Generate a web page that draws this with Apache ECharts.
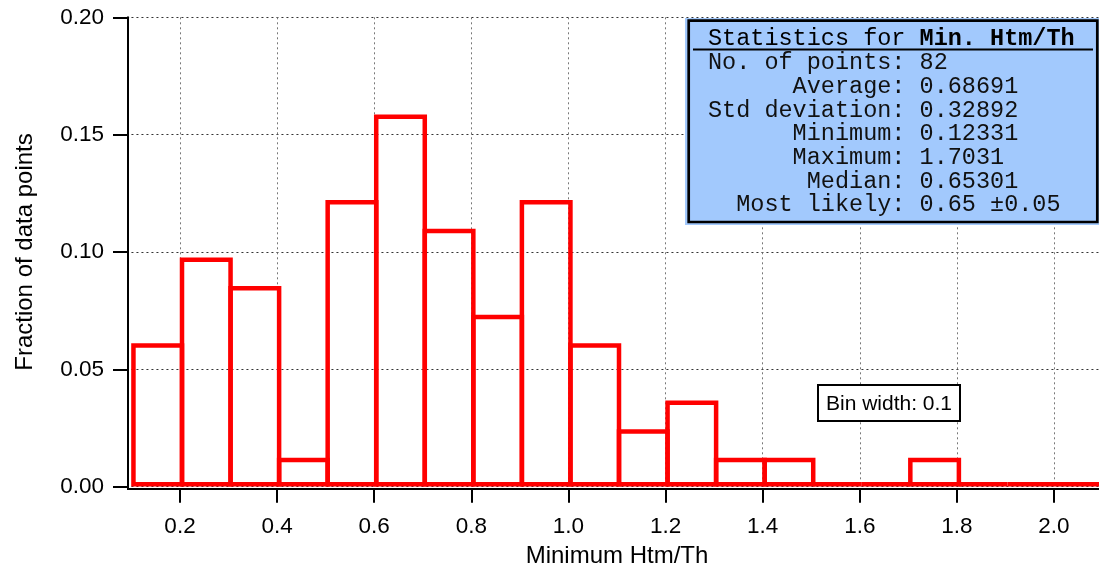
<!DOCTYPE html>
<html><head><meta charset="utf-8">
<script src="https://cdn.jsdelivr.net/npm/echarts@6/dist/echarts.min.js"></script>
<style>html,body{margin:0;padding:0;background:#fff}#c{width:1099px;height:569px}</style>
</head><body><div id="c"></div>
<script>
// ---- data ----
const binStarts = [0.1,0.2,0.3,0.4,0.5,0.6,0.7,0.8,0.9,1.0,1.1,1.2,1.3,1.4,1.5,1.6,1.7,1.8,1.9,2.0];
const binWidth = 0.1;
const fractions = [0.0610,0.0976,0.0854,0.0122,0.1220,0.1585,0.1098,0.0732,0.1220,0.0610,0.0244,0.0366,0.0122,0.0122,0,0,0.0122,0,0,0];
const xTickValues = [0.2,0.4,0.6,0.8,1.0,1.2,1.4,1.6,1.8,2.0];
const statTitle = 'Statistics for ';
const statTitleBold = 'Min. Htm/Th';
const statLines = [
  'No. of points: 82',
  '      Average: 0.68691',
  'Std deviation: 0.32892',
  '      Minimum: 0.12331',
  '      Maximum: 1.7031',
  '       Median: 0.65301',
  '  Most likely: 0.65 \u00b10.05'
];
const binLabel = 'Bin width: 0.1';

// ---- chart ----
const chart = echarts.init(document.getElementById('c'), null, {renderer:'canvas'});
const sans = 'Liberation Sans, Arial, sans-serif';
const mono = 'Liberation Mono, Courier New, monospace';
const statFont = 23.5;
const statLineGap = 23.7;

const graphics = [
  {type:'rect', shape:{x:685, y:18, width:416, height:207}, style:{fill:'#a2c9fd'}, z:100},
  {type:'rect', shape:{x:688.7, y:20.7, width:408.6, height:201.3}, style:{fill:'none', stroke:'#000', lineWidth:2.7}, z:101},
  {type:'text', x:708, y:39, style:{text:'{a|'+statTitle+'}{b|'+statTitleBold+'}', rich:{a:{fontFamily:mono,fontSize:statFont,color:'#111'}, b:{fontFamily:mono,fontSize:statFont,fontWeight:'bold',color:'#000'}}, verticalAlign:'middle', align:'left'}, z:102},
  {type:'line', shape:{x1:693, y1:49.5, x2:1093, y2:49.5}, style:{stroke:'#000', lineWidth:2}, z:102},
  {type:'rect', shape:{x:818, y:385, width:142, height:36}, style:{fill:'#fff', stroke:'#000', lineWidth:2}, z:100},
  {type:'text', x:889, y:404, style:{text:binLabel, fontFamily:sans, fontSize:21, fill:'#000', align:'center', verticalAlign:'middle'}, z:101},
  // axis corner join (axis lines meet below/left of the plot area, as in the reference)
  {type:'polyline', shape:{points:[[128,486],[128,489],[132,489]]}, style:{stroke:'#000', lineWidth:2, fill:'none'}, z:50}
];
statLines.forEach((s,i)=>{
  graphics.push({type:'text', x:708, y:63 + i*statLineGap, style:{text:s, fontFamily:mono, fontSize:statFont, fill:'#111', align:'left', verticalAlign:'middle'}, z:102});
});

chart.setOption({
  animation:false,
  backgroundColor:'#fff',
  grid:{left:131.45, top:17.3, width:971.1, height:469.4, containLabel:false, outerBoundsMode:'none'},
  xAxis:{
    type:'value', min:0.1, max:2.1, offset:2,
    axisLine:{show:true, onZero:false, lineStyle:{color:'#000', width:2}},
    axisTick:{show:true, customValues:xTickValues, length:14, lineStyle:{color:'#000', width:2}},
    axisLabel:{customValues:xTickValues, formatter:v=>v.toFixed(1), fontSize:22.5, color:'#000', fontFamily:sans, margin:27},
    splitLine:{show:true, lineStyle:{color:'#777', type:[2,3], width:1}},
    name:'Minimum Htm/Th', nameLocation:'middle', nameGap:56,
    nameTextStyle:{fontSize:24, color:'#000', fontFamily:sans}
  },
  yAxis:{
    type:'value', min:0, max:0.2, interval:0.05, offset:3.45,
    axisLine:{show:true, onZero:false, lineStyle:{color:'#000', width:2}},
    axisTick:{show:true, length:15, lineStyle:{color:'#000', width:2}},
    axisLabel:{formatter:v=>v.toFixed(2), fontSize:22.5, color:'#000', fontFamily:sans, margin:24},
    splitLine:{show:true, lineStyle:{color:'#333', type:[2,3], width:1}},
    name:'Fraction of data points', nameLocation:'middle', nameGap:91, nameRotate:90,
    nameTextStyle:{fontSize:24, color:'#000', fontFamily:sans}
  },
  series:[{
    type:'custom',
    clip:false,
    data: binStarts.map((b,i)=>[b, fractions[i]]),
    renderItem:function(params, api){
      const x0 = api.value(0), h = api.value(1);
      const pL = api.coord([x0, 0]);
      const pR = api.coord([x0 + binWidth, h]);
      const yb = pL[1] - 2.5;
      const yt = Math.min(pR[1] + 2, yb);
      return {type:'rect', shape:{x:pL[0]+2, y:yt, width:pR[0]-pL[0], height:yb-yt},
        style:{fill:'none', stroke:'#ff0000', lineWidth:4.5, lineJoin:'miter'}};
    }
  }],
  graphic: graphics
});
</script>
</body></html>
